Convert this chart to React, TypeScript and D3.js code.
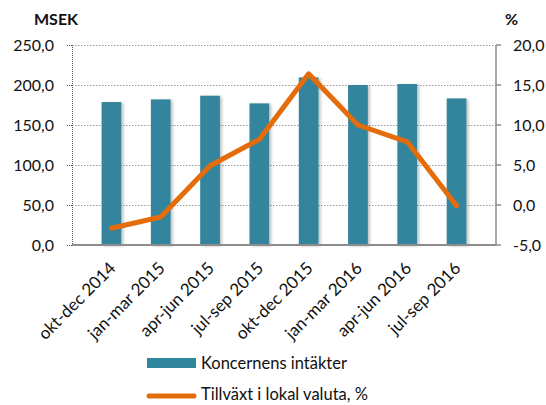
import { useEffect, useRef } from "react";
import * as d3 from "d3";

const categories = [
  "okt-dec 2014",
  "jan-mar 2015",
  "apr-jun 2015",
  "jul-sep 2015",
  "okt-dec 2015",
  "jan-mar 2016",
  "apr-jun 2016",
  "jul-sep 2016"
];
const revenue = [178.7, 182.0, 186.6, 177.0, 209.5, 200.0, 201.2, 183.2];
const growth = [-2.9, -1.5, 4.9, 8.2, 16.4, 10.0, 7.9, -0.1];
const leftTicks = [0, 50, 100, 150, 200, 250];
const rightTicks = [-5, 0, 5, 10, 15, 20];

const barColor = "#31859c";
const lineColor = "#e46c0a";
const font = "Lato, 'Open Sans', sans-serif";
const fmt = (v: number) => v.toFixed(1).replace(".", ",");

export default function App() {
  const svgRef = useRef<SVGSVGElement>(null);

  useEffect(() => {
    const svg = d3.select(svgRef.current);
    svg.selectAll("*").remove();

    const width = 546;
    const height = 405;
    const margin = { top: 45, right: 50, bottom: 160, left: 72 };
    const plotRight = width - margin.right;
    const plotBottom = height - margin.bottom;

    const defs = svg.append("defs");
    const f = defs.append("filter").attr("id", "shadow").attr("x", "-20%").attr("width", "150%").attr("height", "120%");
    f.append("feDropShadow")
      .attr("dx", 2)
      .attr("dy", 1)
      .attr("stdDeviation", 1.5)
      .attr("flood-color", "#000")
      .attr("flood-opacity", 0.25);

    const x = d3.scaleBand().domain(categories).range([margin.left, plotRight]).padding(0.6);
    const yL = d3.scaleLinear().domain([0, 250]).range([plotBottom, margin.top]);
    const yR = d3.scaleLinear().domain([-5, 20]).range([plotBottom, margin.top]);

    // gridlines
    svg
      .append("g")
      .selectAll("line")
      .data(leftTicks.filter((t) => t > 0))
      .join("line")
      .attr("x1", margin.left)
      .attr("x2", plotRight)
      .attr("y1", (d) => yL(d) + 0.5)
      .attr("y2", (d) => yL(d) + 0.5)
      .attr("stroke", "#9a9a9a")
      .attr("stroke-dasharray", "1.5,1.5");

    // bars
    svg
      .append("g")
      .selectAll("rect")
      .data(categories)
      .join("rect")
      .attr("x", (d) => x(d)!)
      .attr("y", (_, i) => yL(revenue[i]))
      .attr("width", x.bandwidth())
      .attr("height", (_, i) => plotBottom - yL(revenue[i]))
      .attr("fill", barColor)
      .attr("filter", "url(#shadow)");

    // left axis (dotted)
    const leftAxis = svg.append("g").attr("transform", `translate(${margin.left},0)`);
    leftAxis
      .append("line")
      .attr("x1", 0.5)
      .attr("x2", 0.5)
      .attr("y1", margin.top)
      .attr("y2", plotBottom)
      .attr("stroke", "#555")
      .attr("stroke-dasharray", "1,1");
    leftAxis
      .selectAll("line.tick")
      .data(leftTicks)
      .join("line")
      .attr("class", "tick")
      .attr("x1", -5)
      .attr("x2", 0)
      .attr("y1", (d) => yL(d) + 0.5)
      .attr("y2", (d) => yL(d) + 0.5)
      .attr("stroke", "#555")
      .attr("stroke-dasharray", "1,1");
    leftAxis
      .selectAll("text")
      .data(leftTicks)
      .join("text")
      .attr("x", -18)
      .attr("y", (d) => yL(d))
      .attr("dy", "0.35em")
      .attr("text-anchor", "end")
      .style("font", `16px ${font}`)
      .attr("fill", "#111")
      .text(fmt);

    // right axis
    const rightAxis = svg.append("g").attr("transform", `translate(${plotRight},0)`);
    rightAxis
      .append("line")
      .attr("x1", 0)
      .attr("x2", 0)
      .attr("y1", margin.top)
      .attr("y2", plotBottom)
      .attr("stroke", "#8c8c8c")
      .attr("stroke-width", 1.5);
    rightAxis
      .selectAll("line.tick")
      .data(rightTicks)
      .join("line")
      .attr("class", "tick")
      .attr("x1", 0)
      .attr("x2", 5)
      .attr("y1", (d) => yR(d))
      .attr("y2", (d) => yR(d))
      .attr("stroke", "#8c8c8c")
      .attr("stroke-width", 1.5);
    rightAxis
      .selectAll("text")
      .data(rightTicks)
      .join("text")
      .attr("x", 17)
      .attr("y", (d) => yR(d))
      .attr("dy", "0.35em")
      .style("font", `16px ${font}`)
      .attr("fill", "#111")
      .text(fmt);

    // bottom axis
    svg
      .append("line")
      .attr("x1", margin.left)
      .attr("x2", plotRight)
      .attr("y1", plotBottom)
      .attr("y2", plotBottom)
      .attr("stroke", "#8c8c8c")
      .attr("stroke-width", 2);

    svg
      .append("g")
      .selectAll("text")
      .data(categories)
      .join("text")
      .attr("transform", (d) => `translate(${x(d)! + x.bandwidth() / 2 + 1},${plotBottom + 20}) rotate(-45)`)
      .attr("text-anchor", "end")
      .attr("dy", "0.35em")
      .style("font", `17px ${font}`)
      .attr("fill", "#111")
      .text((d) => d);

    // growth line
    const line = d3
      .line<number>()
      .x((_, i) => x(categories[i])! + x.bandwidth() / 2)
      .y((d) => yR(d));
    svg
      .append("path")
      .datum(growth)
      .attr("d", line)
      .attr("fill", "none")
      .attr("stroke", lineColor)
      .attr("stroke-width", 5)
      .attr("stroke-linejoin", "round")
      .attr("stroke-linecap", "round");

    // axis titles
    svg
      .append("text")
      .attr("x", 34)
      .attr("y", 25)
      .style("font", `bold 16px ${font}`)
      .attr("fill", "#111")
      .text("MSEK");
    svg
      .append("text")
      .attr("x", 505)
      .attr("y", 25)
      .style("font", `bold 16px ${font}`)
      .attr("fill", "#111")
      .text("%");

    // legend
    const legend = svg.append("g").attr("transform", "translate(147,0)");
    legend.append("rect").attr("x", 0).attr("y", 358).attr("width", 49).attr("height", 10).attr("fill", barColor);
    legend
      .append("text")
      .attr("x", 54)
      .attr("y", 363)
      .attr("dy", "0.35em")
      .style("font", `16.5px ${font}`)
      .attr("fill", "#111")
      .text("Koncernens intäkter");
    legend
      .append("line")
      .attr("x1", 2)
      .attr("x2", 47)
      .attr("y1", 396)
      .attr("y2", 396)
      .attr("stroke", lineColor)
      .attr("stroke-width", 5)
      .attr("stroke-linecap", "round");
    legend
      .append("text")
      .attr("x", 54)
      .attr("y", 400)
      .style("font", `16.5px ${font}`)
      .attr("fill", "#111")
      .text("Tillväxt i lokal valuta, %");
  }, []);

  return (
    <svg
      ref={svgRef}
      width={546}
      height={405}
      style={{ position: "absolute", left: 0, top: 0, background: "#fff" }}
    />
  );
}
